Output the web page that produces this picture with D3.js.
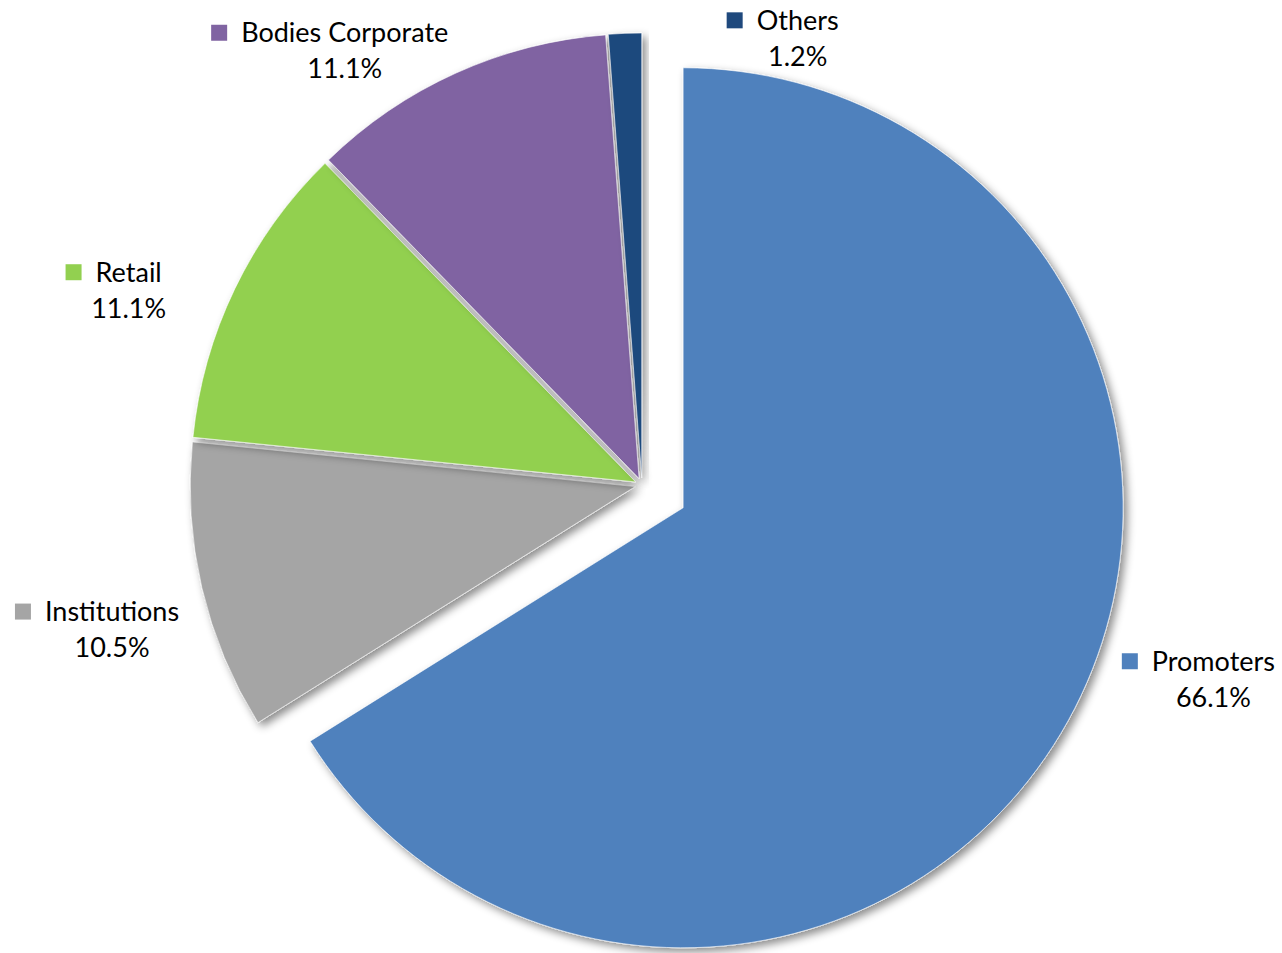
<!DOCTYPE html>
<html>
<head>
<meta charset="utf-8">
<script src="https://cdn.jsdelivr.net/npm/d3@7"></script>
<style>
  body { margin: 0; background: #fff; }
  svg text { font-family: Lato, "Open Sans", sans-serif; fill: #000; }
</style>
</head>
<body>
<svg id="chart" width="1282" height="953"></svg>
<script>
// data
var categorias = ["Promoters", "Institutions", "Retail", "Bodies Corporate", "Others"];
var valores = [66.1, 10.5, 11.1, 11.1, 1.2];
var cores = ["#4F81BD", "#A5A5A5", "#92D050", "#8064A2", "#1F497D"];

// layout (slice explosion, radius and label nudges, px)
var explode = [47, 7, 7, 7, 7];
var raios = [440, 445, 445, 445, 445];
var labelNudge = [[134, -66], [-82, 22], [-99, -13], [-108, -33], [173, -5]];

var svg = d3.select("#chart"),
    cx = 642, cy = 485, distRotulo = 453;

var defs = svg.append("defs");
var f = defs.append("filter").attr("id", "sombra")
    .attr("x", "-20%").attr("y", "-20%").attr("width", "140%").attr("height", "140%");
f.append("feDropShadow")
    .attr("dx", 4).attr("dy", 4).attr("stdDeviation", 4)
    .attr("flood-color", "#000").attr("flood-opacity", 0.45);

var dados = categorias.map(function(c, i){ return {nome: c, valor: valores[i], cor: cores[i], i: i}; });

var pie = d3.pie().sort(null).value(function(d){ return d.valor; });
var arc = d3.arc().innerRadius(0).outerRadius(function(d){ return raios[d.data.i]; });
var arcs = pie(dados);

function dir(a){ return [Math.sin(a), -Math.cos(a)]; }

var g = svg.append("g").attr("transform", "translate(" + cx + "," + cy + ")");

g.selectAll("path.fatia")
  .data(arcs)
  .enter().append("path")
    .attr("class", "fatia")
    .attr("d", arc)
    .attr("fill", function(d){ return d.data.cor; })
    .attr("stroke", "#fff")
    .attr("stroke-width", 1)
    .attr("stroke-opacity", 0.6)
    .attr("filter", "url(#sombra)")
    .attr("transform", function(d){
      var m = (d.startAngle + d.endAngle) / 2, v = dir(m), e = explode[d.data.i];
      return "translate(" + (v[0] * e) + "," + (v[1] * e) + ")";
    });

// labels
var fonte = 27;
arcs.forEach(function(d){
  var m = (d.startAngle + d.endAngle) / 2, v = dir(m), e = explode[d.data.i];
  var bx = v[0] * (e + distRotulo), by = v[1] * (e + distRotulo);
  var n = labelNudge[d.data.i];
  var x = bx + n[0], y = by + n[1];

  var lab = g.append("g").attr("class", "rotulo");
  var t1 = lab.append("text")
      .attr("x", x).attr("y", y)
      .attr("dy", "0.35em")
      .attr("text-anchor", "middle")
      .attr("font-size", fonte)
      .text(d.data.nome);
  var w = t1.node().getComputedTextLength();
  lab.append("rect")
      .attr("x", x - w / 2 - 30).attr("y", y - 8)
      .attr("width", 16).attr("height", 16)
      .attr("fill", d.data.cor);
  lab.append("text")
      .attr("x", x).attr("y", y + 36)
      .attr("dy", "0.35em")
      .attr("text-anchor", "middle")
      .attr("font-size", fonte)
      .text(d3.format(".1f")(d.data.valor) + "%");
});
</script>
</body>
</html>
